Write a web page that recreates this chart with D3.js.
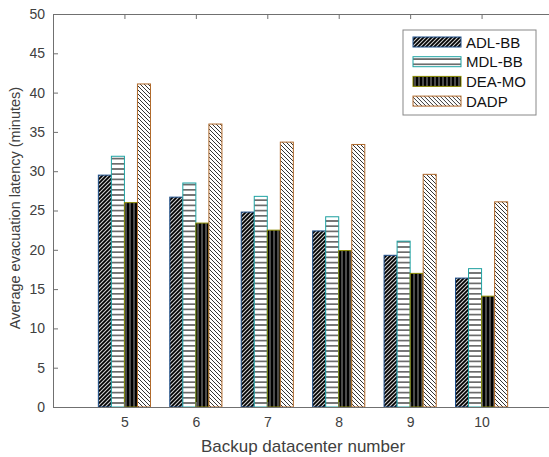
<!DOCTYPE html>
<html>
<head>
<meta charset="utf-8">
<script src="https://cdn.jsdelivr.net/npm/d3@7"></script>
<style>
  body { margin: 0; background: #fff; }
  text { font-family: "Liberation Sans", Arial, sans-serif; fill: #404040; }
</style>
</head>
<body>
<div id="chart"></div>
<script>
// backup datacenter counts on the x axis
const categories = [5, 6, 7, 8, 9, 10];
const seriesNames = ["ADL-BB", "MDL-BB", "DEA-MO", "DADP"];
const adlBB = [29.5, 26.7, 24.8, 22.4, 19.3, 16.4];
const mdlBB = [31.9, 28.5, 26.8, 24.2, 21.1, 17.6];
const deaMO = [26.0, 23.4, 22.5, 19.9, 17.0, 14.1];
const dadp = [41.1, 36.0, 33.7, 33.4, 29.6, 26.1];
const yTicks = [0, 5, 10, 15, 20, 25, 30, 35, 40, 45, 50];

const width = 549, height = 457;
const marginLeft = 53, marginTop = 14, marginBottom = 50;
const plotRight = 553; // the right edge of the box sits just off the picture

const series = [adlBB, mdlBB, deaMO, dadp];
const edgeColors = ["#1d4e8a", "#1fa3a3", "#8a8a00", "#b06a2c"];
const fills = ["url(#hatchAdl)", "url(#hatchMdl)", "url(#hatchDea)", "url(#hatchDadp)"];

const x = d3.scaleLinear([4, 11], [marginLeft, plotRight]);
const y = d3.scaleLinear([0, 50], [height - marginBottom, marginTop]);
const groupW = (x(1) - x(0)) * 0.73;
const sub = d3.scaleBand(d3.range(4), [-groupW / 2, groupW / 2]).padding(0);

const svg = d3.select("#chart").append("svg")
    .attr("width", width)
    .attr("height", height)
    .attr("viewBox", [0, 0, width, height]);

// hatch patterns
const defs = svg.append("defs");
const adl = defs.append("pattern").attr("id", "hatchAdl")
    .attr("patternUnits", "userSpaceOnUse").attr("width", 4).attr("height", 4);
adl.append("rect").attr("width", 4).attr("height", 4).attr("fill", "#000");
adl.append("path").attr("d", "M-1,1 l2,-2 M0,4 l4,-4 M3,5 l2,-2")
    .attr("stroke", "#d0d0d0").attr("stroke-width", 1.1);

const mdl = defs.append("pattern").attr("id", "hatchMdl")
    .attr("patternUnits", "userSpaceOnUse").attr("width", 4).attr("height", 5.2);
mdl.append("rect").attr("width", 4).attr("height", 5.2).attr("fill", "#fff");
mdl.append("line").attr("x1", 0).attr("x2", 4).attr("y1", 2.6).attr("y2", 2.6)
    .attr("stroke", "#000").attr("stroke-width", 1);

const dea = defs.append("pattern").attr("id", "hatchDea")
    .attr("patternUnits", "userSpaceOnUse").attr("width", 4).attr("height", 4);
dea.append("rect").attr("width", 4).attr("height", 4).attr("fill", "#000");
dea.append("line").attr("x1", 2).attr("x2", 2).attr("y1", 0).attr("y2", 4)
    .attr("stroke", "#bbb").attr("stroke-width", 0.8);

const dd = defs.append("pattern").attr("id", "hatchDadp")
    .attr("patternUnits", "userSpaceOnUse").attr("width", 4).attr("height", 4);
dd.append("rect").attr("width", 4).attr("height", 4).attr("fill", "#fff");
dd.append("path").attr("d", "M-1,3 l2,2 M0,0 l4,4 M3,-1 l2,2")
    .attr("stroke", "#000").attr("stroke-width", 0.8);

// bars
const g = svg.append("g");
series.forEach((vals, s) => {
    g.append("g")
        .selectAll("rect")
        .data(categories)
        .join("rect")
        .attr("x", (c) => x(c) + sub(s))
        .attr("y", (c, i) => y(vals[i]))
        .attr("width", sub.bandwidth())
        .attr("height", (c, i) => y(0) - y(vals[i]))
        .attr("fill", fills[s])
        .attr("stroke", edgeColors[s])
        .attr("stroke-width", 1);
});

// axes (ticks inward, box on)
const axisColor = "#707070";
const yAxis = d3.axisLeft(y).tickValues(yTicks).tickSizeInner(-5).tickSizeOuter(0).tickPadding(8);
svg.append("g")
    .attr("transform", `translate(${marginLeft},0)`)
    .call(yAxis)
    .call(a => a.select(".domain").attr("stroke", axisColor))
    .call(a => a.selectAll(".tick line").attr("stroke", axisColor))
    .call(a => a.selectAll(".tick text").attr("font-size", 14).attr("fill", "#404040"));

const xAxis = d3.axisBottom(x).tickValues(categories).tickFormat(d3.format("d"))
    .tickSizeInner(-5).tickSizeOuter(0).tickPadding(10);
svg.append("g")
    .attr("transform", `translate(0,${height - marginBottom})`)
    .call(xAxis)
    .call(a => a.select(".domain").attr("stroke", axisColor))
    .call(a => a.selectAll(".tick line").attr("stroke", axisColor))
    .call(a => a.selectAll(".tick text").attr("font-size", 14).attr("fill", "#404040"));

// top edge of the box with its ticks
svg.append("g")
    .attr("transform", `translate(0,${marginTop})`)
    .call(d3.axisTop(x).tickValues(categories).tickSizeInner(-5).tickSizeOuter(0).tickFormat(""))
    .call(a => a.select(".domain").attr("stroke", axisColor))
    .call(a => a.selectAll(".tick line").attr("stroke", axisColor));

// axis labels
svg.append("text")
    .attr("x", 303)
    .attr("y", 452)
    .attr("text-anchor", "middle")
    .attr("font-size", 17)
    .text("Backup datacenter number");

svg.append("text")
    .attr("transform", "translate(20,208) rotate(-90)")
    .attr("text-anchor", "middle")
    .attr("font-size", 14.5)
    .text("Average evacuation latency (minutes)");

// legend
const legend = svg.append("g").attr("transform", "translate(403,30)");
legend.append("rect")
    .attr("width", 133).attr("height", 85)
    .attr("fill", "#fff").attr("stroke", "#888").attr("stroke-width", 1);
const item = legend.selectAll("g.item")
    .data(seriesNames)
    .join("g")
    .attr("class", "item")
    .attr("transform", (d, i) => `translate(10,${12 + i * 19.7})`);
item.append("rect")
    .attr("x", 0).attr("y", -5)
    .attr("width", 48).attr("height", 10)
    .attr("fill", (d, i) => fills[i])
    .attr("stroke", (d, i) => edgeColors[i]);
item.append("text")
    .attr("x", 53).attr("y", 5.5)
    .attr("font-size", 15)
    .style("fill", "#111")
    .text(d => d);
</script>
</body>
</html>
